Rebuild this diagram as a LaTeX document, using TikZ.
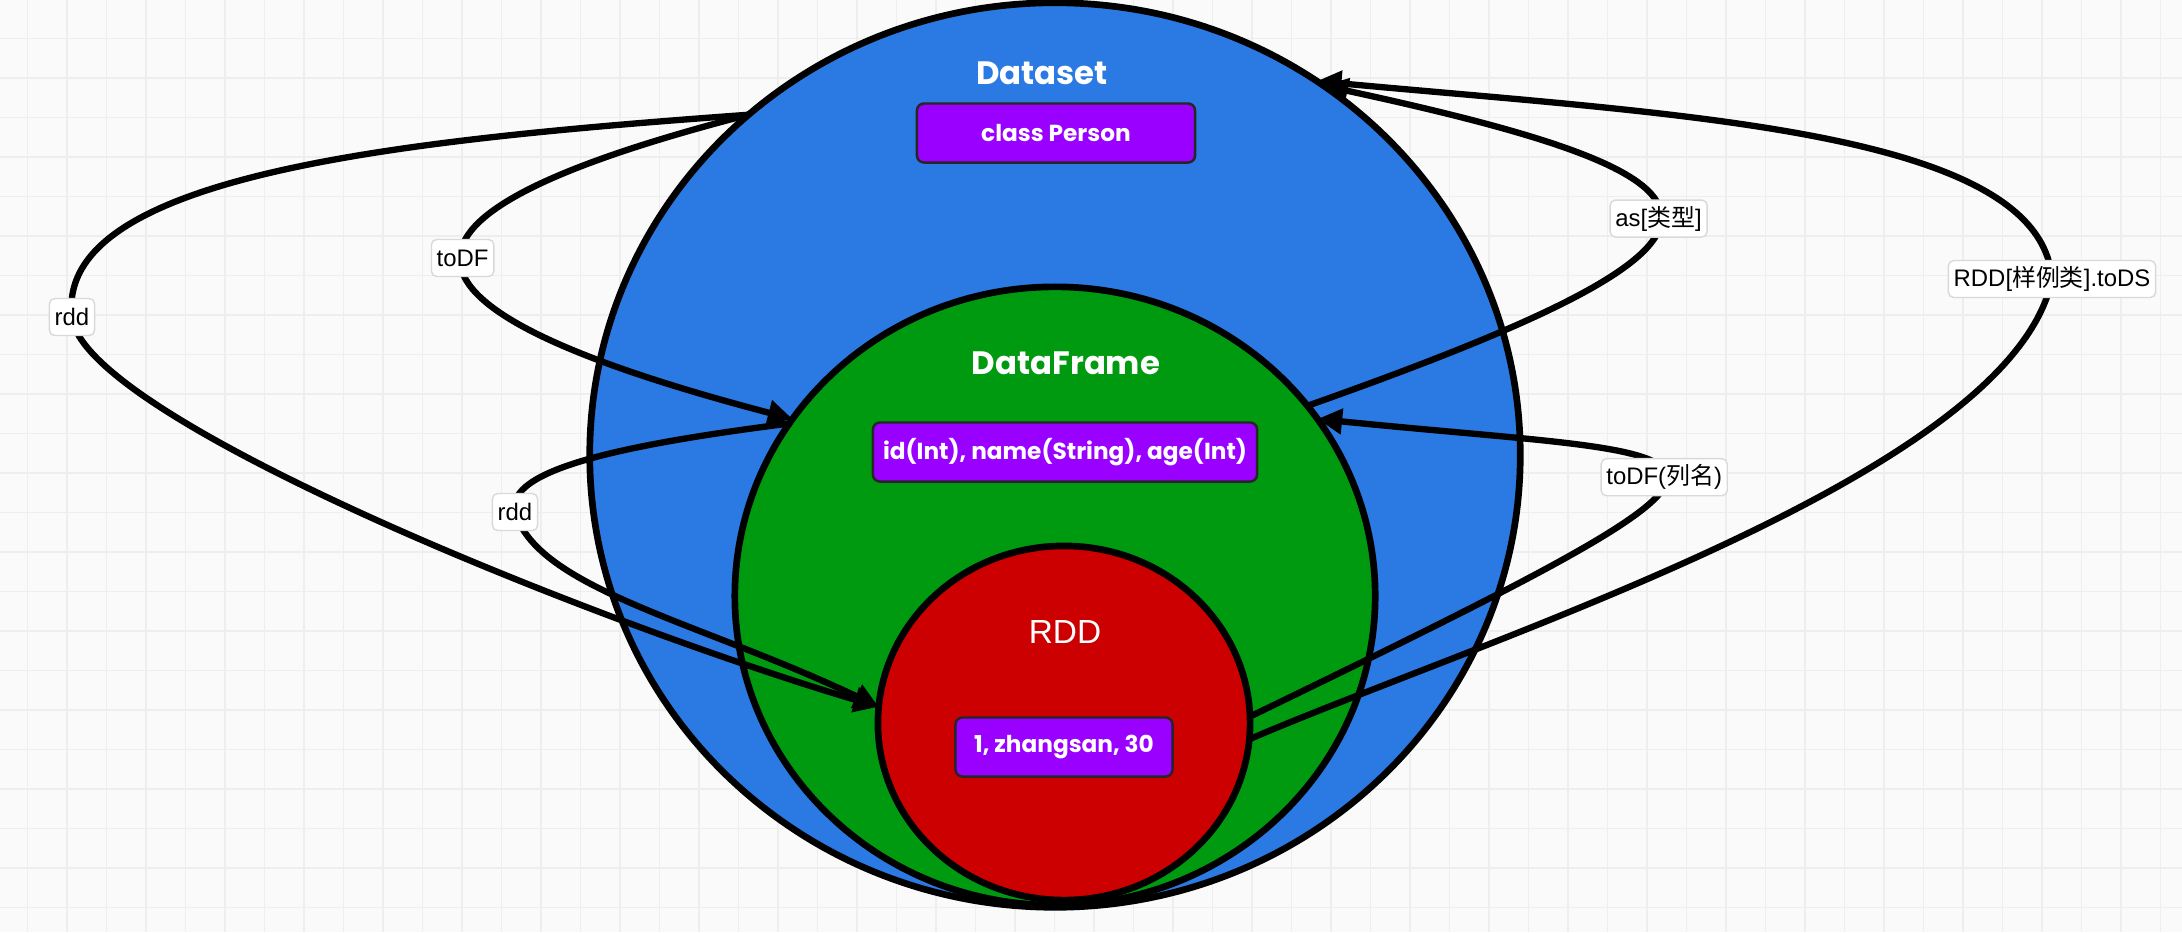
\documentclass[tikz,border=0pt]{standalone}
\usepackage{fontspec}
\setmainfont{Liberation Sans}
\newfontfamily\roundfont{Poppins}
\newfontfamily\cjk{Noto Sans CJK SC}
\usetikzlibrary{shapes.geometric,arrows.meta}
\definecolor{paper}{RGB}{250,250,250}
\definecolor{gridgray}{RGB}{238,238,238}
\definecolor{dsblue}{RGB}{43,121,226}
\definecolor{dfgreen}{RGB}{0,154,16}
\definecolor{rddred}{RGB}{204,0,0}
\definecolor{fieldpurple}{RGB}{153,0,255}

\begin{document}
\begin{tikzpicture}[x=0.01cm,y=-0.01cm,
    circ/.style={ellipse,draw=black,line width=1.9pt,inner sep=0pt,outer sep=0pt},
    title/.style={text=white,font=\roundfont\bfseries\fontsize{9.2}{11}\selectfont},
    field/.style={rectangle,rounded corners=2pt,fill=fieldpurple,draw=black!85,line width=0.7pt,
      text=white,font=\roundfont\bfseries\fontsize{6.6}{8}\selectfont,minimum height=0.59cm,inner sep=0pt},
    lbl/.style={rectangle,rounded corners=1.5pt,fill=white,draw=black!15,line width=0.4pt,
      font=\fontsize{6.8}{8}\selectfont,minimum height=0.37cm,inner xsep=1.5pt,inner ysep=0pt},
    conn/.style={line width=1.8pt,-{Triangle[length=7pt,width=7pt]}}]

  \useasboundingbox (0,0) rectangle (2182,932);
  \fill[paper] (0,0) rectangle (2182,932);

  \begin{scope}[gridgray]
    \foreach \k in {0,...,56}
      \draw[line width=0.4pt] ({-12+39.5*\k},0) -- ({-12+39.5*\k},932);
    \foreach \k in {0,...,24}
      \draw[line width=0.4pt] (0,{-1+39.5*\k}) -- (2182,{-1+39.5*\k});
    \foreach \k in {0,...,28}
      \draw[line width=0.8pt] ({-12+79*\k},0) -- ({-12+79*\k},932);
    \foreach \k in {0,...,12}
      \draw[line width=0.8pt] (0,{-1+79*\k}) -- (2182,{-1+79*\k});
  \end{scope}

  \node[circ,fill=dsblue,minimum width=9.3cm,minimum height=9.04cm] (ds) at (1055,455) {};
  \node[circ,fill=dfgreen,minimum width=6.4cm,minimum height=6.18cm] (df) at (1055,596) {};
  \node[circ,fill=rddred,minimum width=3.72cm,minimum height=3.54cm] (rdd) at (1064,723) {};

  \node[title] (ds title) at (1042,73) {Dataset};
  \node[field,minimum width=2.78cm] (ds field) at (1056,133) {class Person};
  \node[title] (df title) at (1066,363) {DataFrame};
  \node[field,minimum width=3.84cm] (df field) at (1065,452) {id(Int), name(String), age(Int)};
  \node[title,font=\fontsize{9.5}{11}\selectfont] (rdd title) at (1065,632) {RDD};
  \node[field,minimum width=2.17cm] (rdd field) at (1064,747) {1, zhangsan, 30};

  \draw[conn] (ds.132) .. controls (400,140) and (55,175) .. (72,317) node[lbl] (rdd out) {rdd}
    .. controls (82,417) and (591,621) .. (rdd.175);
  \draw[conn] (ds.132) .. controls (380,210) and (340,300) .. (df.146)
    node[lbl,pos=0.5] (todf) {toDF};
  \draw[conn] (df.147) .. controls (620,445) and (505,470) .. (515,512) node[lbl] (rdd in) {rdd}
    .. controls (538,589) and (698,621) .. (rdd.175);
  \draw[conn] (df.37) .. controls (1782,238) and (1764,181) .. (ds.54)
    node[lbl,pos=0.5] (as type) {as[{\cjk 类型}]};
  \draw[conn] (rdd.355) .. controls (1480,640) and (2012,475) .. (2052,279) node[lbl] (tods) {RDD[{\cjk 样例类}].toDS}
    .. controls (2040,130) and (1680,115) .. (ds.55);
  \draw[conn] (rdd.2) .. controls (1838,432) and (1744,462) .. (df.34)
    node[lbl,pos=0.5] (todf names) {toDF({\cjk 列名})};
\end{tikzpicture}
\end{document}
